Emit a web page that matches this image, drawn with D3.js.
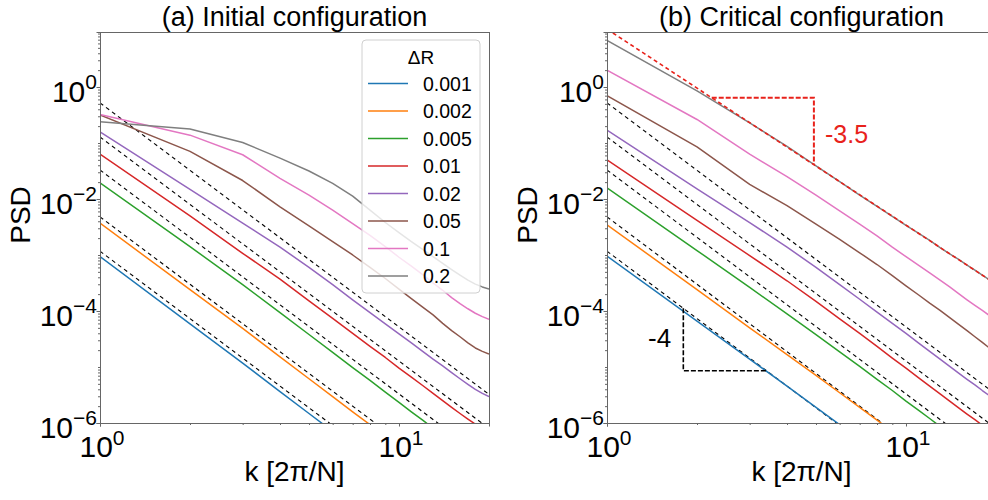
<!DOCTYPE html>
<html><head><meta charset="utf-8">
<script src="https://cdn.jsdelivr.net/npm/d3@7/dist/d3.min.js"></script>
<style>
body{margin:0;background:#fff}
svg text{font-family:"Liberation Sans",Arial,Helvetica,sans-serif;fill:#000}
</style>
</head><body>
<svg id="chart" width="988" height="500"></svg>
<script>
// ---------------- data ----------------
const kValues = [1,2,3,4,5,6,7,8,9,10,11,12,13,14,15,16,17,18,19,20];
const deltaR = ["0.001","0.002","0.005","0.01","0.02","0.05","0.1","0.2"];
const seriesColors = ["#1f77b4","#ff7f0e","#2ca02c","#d62728","#9467bd","#8c564b","#e377c2","#7f7f7f"];

// log10(PSD) per k, panel (a) Initial configuration
const initialLog10PSD = [
  [-3.03,-4.23,-4.93,-5.44,-5.83,-6.15,-6.42,-6.65,-6.85,-7.03,-7.20,-7.35,-7.49,-7.62,-7.74,-7.85,-7.95,-8.05,-8.14,-8.23],
  [-2.43,-3.62,-4.31,-4.82,-5.21,-5.53,-5.80,-6.03,-6.24,-6.43,-6.59,-6.74,-6.88,-7.01,-7.13,-7.24,-7.34,-7.44,-7.53,-7.62],
  [-1.71,-2.85,-3.53,-4.03,-4.42,-4.74,-5.01,-5.24,-5.45,-5.63,-5.80,-5.95,-6.09,-6.22,-6.34,-6.45,-6.56,-6.66,-6.75,-6.84],
  [-1.20,-2.30,-2.97,-3.43,-3.82,-4.13,-4.40,-4.63,-4.83,-5.02,-5.18,-5.33,-5.47,-5.60,-5.72,-5.83,-5.93,-6.02,-6.11,-6.19],
  [-0.80,-1.83,-2.43,-2.86,-3.22,-3.53,-3.80,-4.03,-4.23,-4.41,-4.57,-4.72,-4.86,-4.98,-5.10,-5.21,-5.31,-5.40,-5.47,-5.53],
  [-0.50,-1.15,-1.67,-2.14,-2.48,-2.76,-3.00,-3.22,-3.42,-3.61,-3.78,-3.93,-4.07,-4.22,-4.35,-4.46,-4.57,-4.66,-4.72,-4.77],
  [-0.49,-0.86,-1.21,-1.63,-1.93,-2.20,-2.44,-2.65,-2.85,-3.04,-3.20,-3.35,-3.50,-3.63,-3.76,-3.87,-3.96,-4.04,-4.10,-4.15],
  [-0.62,-0.75,-0.99,-1.27,-1.50,-1.72,-1.95,-2.20,-2.42,-2.60,-2.76,-2.90,-3.03,-3.15,-3.26,-3.36,-3.45,-3.52,-3.57,-3.61]
];
// log10(PSD) per k, panel (b) Critical configuration
const criticalLog10PSD = [
  [-3.02,-4.18,-4.86,-5.34,-5.72,-6.03,-6.29,-6.52,-6.72,-6.90,-7.06,-7.21,-7.35,-7.47,-7.59,-7.70,-7.80,-7.90,-7.99,-8.07],
  [-2.46,-3.62,-4.30,-4.78,-5.15,-5.46,-5.72,-5.95,-6.15,-6.33,-6.49,-6.64,-6.78,-6.91,-7.03,-7.14,-7.24,-7.34,-7.43,-7.52],
  [-1.80,-2.92,-3.58,-4.05,-4.42,-4.73,-4.99,-5.22,-5.42,-5.61,-5.77,-5.92,-6.06,-6.18,-6.30,-6.41,-6.51,-6.61,-6.70,-6.79],
  [-1.30,-2.38,-3.01,-3.46,-3.83,-4.14,-4.40,-4.63,-4.84,-5.02,-5.19,-5.34,-5.48,-5.61,-5.73,-5.84,-5.94,-6.04,-6.13,-6.22],
  [-0.77,-1.82,-2.42,-2.86,-3.22,-3.53,-3.79,-4.02,-4.22,-4.40,-4.57,-4.72,-4.86,-4.99,-5.11,-5.22,-5.32,-5.42,-5.51,-5.59],
  [-0.155,-1.07,-1.74,-2.12,-2.45,-2.72,-2.96,-3.17,-3.37,-3.55,-3.71,-3.86,-3.99,-4.12,-4.24,-4.35,-4.46,-4.56,-4.66,-4.75],
  [0.30,-0.58,-1.20,-1.60,-1.93,-2.21,-2.45,-2.66,-2.86,-3.03,-3.18,-3.32,-3.45,-3.57,-3.69,-3.80,-3.90,-3.99,-4.08,-4.16],
  [0.83,-0.07,-0.64,-1.06,-1.41,-1.69,-1.93,-2.13,-2.31,-2.47,-2.61,-2.74,-2.87,-2.98,-3.08,-3.18,-3.27,-3.36,-3.44,-3.52]
];
// k^-4 reference lines (amplitude at k = 1), both panels
const fitAmplitudes = [1.17e-3, 4.8e-3, 0.033, 0.128, 0.52];
const fitSlope = -4;
// k^-3.5 reference line, panel (b)
const redFitAmplitude = 10.8;
const redFitSlope = -3.5;
const redTriangleK = [2.24, 4.92];
const blackTriangleK = [1.80, 3.42];
const slopeLabels = ["-3.5", "-4"];

const xMajorTicks = [1, 10];
const xMinorTicks = [2,3,4,5,6,7,8,9,20];
const yMajorExp = [-6, -4, -2, 0];
const yAllExp = [-6,-5,-4,-3,-2,-1,0];
const panelTitles = ["(a) Initial configuration", "(b) Critical configuration"];
const xLabel = "k [2\u03c0/N]";
const yLabel = "PSD";
const legendTitle = "\u0394R";

// ---------------- drawing ----------------
const svg = d3.select("#chart");
const plotTop = 32, plotBottom = 423;
const yMax = Math.pow(10, 0.982);
const spineColor = "#666";

const panels = [
  {x0: 100, x1: 489, data: initialLog10PSD, title: panelTitles[0]},
  {x0: 607, x1: 996, data: criticalLog10PSD, title: panelTitles[1]}
];

function sup(sel, base, exp, size, supSize, dy) {
  sel.append("tspan").text(base).style("font-size", size + "px");
  sel.append("tspan").text(exp).style("font-size", supSize + "px").attr("dy", dy);
}

panels.forEach((p, pi) => {
  const x = d3.scaleLog().domain([1, 20]).range([p.x0, p.x1]);
  const y = d3.scaleLog().domain([1e-6, yMax]).range([plotBottom, plotTop]);
  const g = svg.append("g");
  const clipId = "clip" + pi;
  g.append("clipPath").attr("id", clipId).append("rect")
    .attr("x", p.x0).attr("y", plotTop).attr("width", p.x1 - p.x0).attr("height", plotBottom - plotTop);
  const plot = g.append("g").attr("clip-path", `url(#${clipId})`);

  const line = d3.line().x(d => x(d[0])).y(d => y(d[1]));

  // k^-4 dashed references
  fitAmplitudes.forEach(a => {
    plot.append("path")
      .attr("d", line([[1, a], [20, a * Math.pow(20, fitSlope)]]))
      .attr("fill", "none").attr("stroke", "#000").attr("stroke-width", 1.1)
      .attr("stroke-dasharray", "4,3.5");
  });

  // series
  p.data.forEach((arr, si) => {
    const pts = kValues.map((kk, i) => [kk, Math.pow(10, arr[i])]);
    plot.append("path").attr("d", line(pts))
      .attr("fill", "none").attr("stroke", seriesColors[si]).attr("stroke-width", 1.5)
      .attr("stroke-linejoin", "round");
  });

  if (pi === 1) {
    const f = kk => redFitAmplitude * Math.pow(kk, redFitSlope);
    plot.append("path").attr("d", line([[1, f(1)], [20, f(20)]]))
      .attr("fill", "none").attr("stroke", "#e8221b").attr("stroke-width", 1.6)
      .attr("stroke-dasharray", "4,3");
    const [ka, kb] = redTriangleK;
    plot.append("path")
      .attr("d", `M${x(ka)},${y(f(ka))}H${x(kb)}V${y(f(kb))}`)
      .attr("fill", "none").attr("stroke", "#e8221b").attr("stroke-width", 2)
      .attr("stroke-dasharray", "5,2");
    const fb = kk => fitAmplitudes[0] * Math.pow(kk, fitSlope);
    const [kc, kd] = blackTriangleK;
    plot.append("path")
      .attr("d", `M${x(kc)},${y(fb(kc))}V${y(fb(kd))}H${x(kd)}`)
      .attr("fill", "none").attr("stroke", "#000").attr("stroke-width", 1.6)
      .attr("stroke-dasharray", "5,2");
    g.append("text").attr("x", 825).attr("y", 143).text(slopeLabels[0])
      .style("font-size", "25px").style("fill", "#e8221b");
    g.append("text").attr("x", 648).attr("y", 347).text(slopeLabels[1])
      .style("font-size", "26px");
  }

  // axes
  g.append("g").attr("transform", `translate(0,${plotBottom})`)
    .call(d3.axisBottom(x).tickValues(xMajorTicks).tickSize(3.5).tickFormat(""));
  g.append("g").attr("transform", `translate(0,${plotBottom})`)
    .call(d3.axisBottom(x).tickValues(xMinorTicks).tickSize(2).tickFormat(""))
    .select(".domain").remove();
  const yMinor = [];
  yAllExp.forEach(e => { for (let m = 2; m <= 9; m++) { const v = m * Math.pow(10, e); if (v <= yMax) yMinor.push(v); } });
  yAllExp.filter(e => yMajorExp.indexOf(e) < 0).forEach(e => yMinor.push(Math.pow(10, e)));
  g.append("g").attr("transform", `translate(${p.x0},0)`)
    .call(d3.axisLeft(y).tickValues(yMajorExp.map(e => Math.pow(10, e))).tickSize(3.5).tickFormat(""));
  g.append("g").attr("transform", `translate(${p.x0},0)`)
    .call(d3.axisLeft(y).tickValues(yMinor).tickSize(2).tickFormat(""))
    .select(".domain").remove();
  g.selectAll(".domain, .tick line").attr("stroke", spineColor);
  // top & right spines
  g.append("line").attr("x1", p.x0).attr("x2", p.x1).attr("y1", plotTop + 0.5).attr("y2", plotTop + 0.5)
    .attr("stroke", spineColor);
  g.append("line").attr("x1", p.x1 + 0.5).attr("x2", p.x1 + 0.5).attr("y1", plotTop).attr("y2", plotBottom)
    .attr("stroke", spineColor);

  // x tick labels
  xMajorTicks.forEach((t, i) => {
    const tx = g.append("text").attr("x", x(t) + 2).attr("y", 457).attr("text-anchor", "middle");
    sup(tx, "10", String(i), 30, 21, -12);
  });
  // y tick labels
  yMajorExp.forEach(e => {
    const ty = g.append("text").attr("x", p.x0 - 3).attr("y", y(Math.pow(10, e)) + 15).attr("text-anchor", "end");
    sup(ty, "10", e < 0 ? "\u2212" + (-e) : String(e), 30, 21, -13);
  });

  // titles and labels
  g.append("text").attr("x", (p.x0 + p.x1) / 2).attr("y", 26).attr("text-anchor", "middle")
    .style("font-size", "27px").text(p.title);
  g.append("text").attr("x", (p.x0 + p.x1) / 2).attr("y", 481).attr("text-anchor", "middle")
    .style("font-size", "28px").text(xLabel);
  g.append("text").attr("transform", `translate(${p.x0 - 70},215) rotate(-90)`).attr("text-anchor", "middle")
    .style("font-size", "28px").text(yLabel);
});

// legend (panel a)
const lg = svg.append("g");
lg.append("rect").attr("x", 362).attr("y", 40).attr("width", 118).attr("height", 253).attr("rx", 4)
  .attr("fill", "#fff").attr("fill-opacity", 0.8).attr("stroke", "#d0d0d0");
lg.append("text").attr("x", 421).attr("y", 64).attr("text-anchor", "middle")
  .style("font-size", "19px").text(legendTitle);
deltaR.forEach((lab, i) => {
  const yy = 83.5 + i * 27.5;
  lg.append("line").attr("x1", 368).attr("x2", 408).attr("y1", yy).attr("y2", yy)
    .attr("stroke", seriesColors[i]).attr("stroke-width", 1.5);
  lg.append("text").attr("x", 423).attr("y", yy + 7).style("font-size", "19.5px").text(lab);
});
</script>
</body></html>
